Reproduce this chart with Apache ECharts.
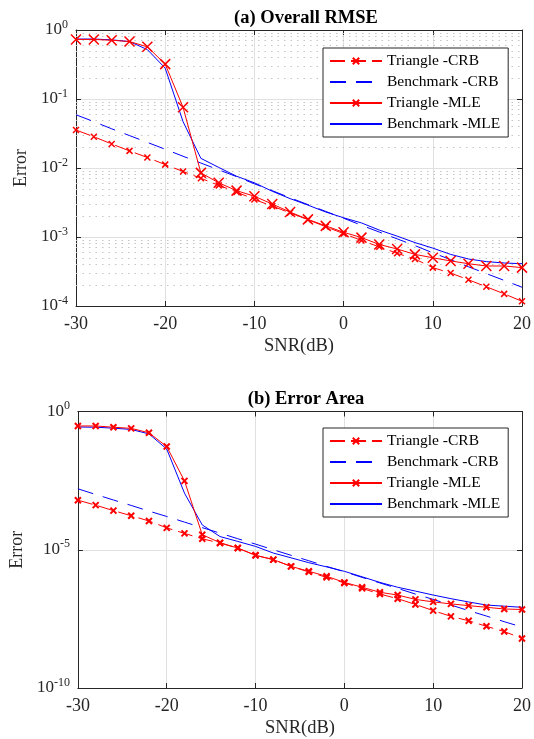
<!DOCTYPE html>
<html>
<head>
<meta charset="utf-8">
<script src="https://cdn.jsdelivr.net/npm/echarts@6/dist/echarts.min.js"></script>
<style>
  html, body { margin: 0; padding: 0; background: #fff; }
  #chart { width: 534px; height: 739px; }
</style>
</head>
<body>
<div id="chart"></div>
<script>
// SNR sweep shared by both panels (dB)
const snr = [-30, -28, -26, -24, -22, -20, -18, -16, -14, -12, -10, -8, -6, -4, -2,
             0, 2, 4, 6, 8, 10, 12, 14, 16, 18, 20];

// Panel (a): overall RMSE
const rmseTriangleCRB = [0.0355, 0.0284, 0.0223, 0.0177, 0.0142, 0.0112, 0.0089, 0.0071, 0.0056, 0.0045,
  0.0035, 0.0028, 0.00224, 0.00178, 0.00141, 0.00112, 0.00089, 0.00072, 0.00058, 0.00048,
  0.00036, 0.00030, 0.00024, 0.00019, 0.00015, 0.000117];
const rmseBenchmarkCRB = [0.059, 0.047, 0.037, 0.0295, 0.0235, 0.0187, 0.0148, 0.0118, 0.0094, 0.0075,
  0.0059, 0.0047, 0.0037, 0.00295, 0.00235, 0.00187, 0.00148, 0.00118, 0.00094, 0.00075,
  0.00059, 0.00047, 0.00037, 0.000295, 0.000235, 0.000187];
const rmseTriangleMLE = [0.73, 0.73, 0.71, 0.68, 0.57, 0.32, 0.076, 0.0085, 0.0061, 0.0047,
  0.0039, 0.0030, 0.0023, 0.0018, 0.00145, 0.00117, 0.00098, 0.00078, 0.00067, 0.00056,
  0.00050, 0.00045, 0.00041, 0.00038, 0.00038, 0.00036];
const rmseBenchmarkMLE = [0.74, 0.74, 0.72, 0.68, 0.52, 0.28, 0.047, 0.0138, 0.0102, 0.0076,
  0.0061, 0.0046, 0.0036, 0.0029, 0.0023, 0.0019, 0.0016, 0.00126, 0.00103, 0.00083,
  0.00069, 0.00056, 0.00048, 0.00044, 0.00042, 0.00041];

// Panel (b): error area
const areaTriangleCRB = [6.2e-4, 4.1e-4, 2.6e-4, 1.7e-4, 1.1e-4, 6.2e-5, 3.9e-5, 2.5e-5, 1.74e-5, 1.15e-5,
  6.3e-6, 4.4e-6, 2.5e-6, 1.58e-6, 1.0e-6, 6.3e-7, 4.0e-7, 2.5e-7, 1.7e-7, 1.05e-7,
  6.3e-8, 3.9e-8, 2.7e-8, 1.7e-8, 1.1e-8, 6.2e-9];
const areaBenchmarkCRB = [1.6e-3, 1.0e-3, 6.3e-4, 4.0e-4, 2.5e-4, 1.6e-4, 1.0e-4, 6.3e-5, 4.0e-5, 2.5e-5,
  1.6e-5, 1.0e-5, 6.3e-6, 4.0e-6, 2.5e-6, 1.6e-6, 1.0e-6, 6.3e-7, 4.0e-7, 2.5e-7,
  1.6e-7, 1.0e-7, 6.3e-8, 4.0e-8, 2.5e-8, 1.6e-8];
const areaTriangleMLE = [0.30, 0.30, 0.27, 0.245, 0.17, 0.054, 0.0031, 3.5e-5, 1.8e-5, 1.15e-5,
  6.3e-6, 4.4e-6, 2.5e-6, 1.66e-6, 1.1e-6, 6.6e-7, 4.4e-7, 2.9e-7, 2.3e-7, 1.6e-7,
  1.3e-7, 1.1e-7, 9.5e-8, 8.3e-8, 7.2e-8, 6.9e-8];
const areaBenchmarkMLE = [0.275, 0.27, 0.25, 0.224, 0.155, 0.044, 1.12e-3, 7.9e-5, 3.0e-5, 2.0e-5,
  1.32e-5, 7.6e-6, 5.1e-6, 3.4e-6, 2.4e-6, 1.66e-6, 1.05e-6, 6.6e-7, 4.4e-7, 3.2e-7,
  2.3e-7, 1.7e-7, 1.29e-7, 1.0e-7, 9.1e-8, 8.3e-8];

// Series names and panel titles
const seriesNames = ['Triangle -CRB', 'Benchmark -CRB', 'Triangle -MLE', 'Benchmark -MLE'];
const panelTitles = ['(a) Overall RMSE', '(b) Error Area'];
const xName = 'SNR(dB)';
const yName = 'Error';

// Minor log grid (2..9 x 10^k) for panel (a)
const minorGridRmse = [];
for (let k = -4; k < 0; k++) {
  for (let m = 2; m <= 9; m++) minorGridRmse.push(m * Math.pow(10, k));
}

const FONT = '"Liberation Serif", "Times New Roman", serif';
const AX = '#262626';
const RED = '#ff0000';
const BLUE = '#0000ff';
const CLEAR = 'rgba(0,0,0,0)';
const DASH_RED = [15, 6];
const DASH_BLUE = [16, 10];
const crossPath = s => 'path://M0,0L' + s + ',' + s + 'M' + s + ',0L0,' + s;

const pair = arr => snr.map((x, i) => [x, arr[i]]);

const powLabel = v => {
  const e = Math.round(Math.log10(v));
  return '{b|10}{s|' + e + '}';
};
const richPow = {
  b: { fontSize: 17, fontFamily: FONT, color: AX },
  s: { fontSize: 12, fontFamily: FONT, color: AX, padding: [0, 0, 11, 0] }
};

function xAxes(gridIndex) {
  return [{
    type: 'value', gridIndex, min: -30, max: 20, interval: 10,
    name: xName, nameLocation: 'middle', nameGap: 31,
    nameTextStyle: { fontFamily: FONT, fontSize: 18.5, color: AX },
    axisLine: { show: true, onZero: false, lineStyle: { color: AX, width: 1 } },
    axisTick: { show: true, inside: true, length: 5, lineStyle: { color: AX } },
    axisLabel: { fontFamily: FONT, fontSize: 18, color: AX, margin: 9 },
    splitLine: { show: true, lineStyle: { color: '#e0e0e0', width: 1 } }
  }, {
    type: 'value', gridIndex, position: 'top', min: -30, max: 20, interval: 10,
    axisLine: { show: true, onZero: false, lineStyle: { color: AX, width: 1 } },
    axisTick: { show: true, inside: true, length: 5, lineStyle: { color: AX } },
    axisLabel: { show: false }, splitLine: { show: false }
  }];
}

function yAxes(gridIndex, min, base) {
  return [{
    type: 'log', gridIndex, min, max: 1, logBase: base,
    name: yName, nameLocation: 'middle', nameGap: 46, nameRotate: 90,
    nameTextStyle: { fontFamily: FONT, fontSize: 18, color: AX },
    axisLine: { show: true, onZero: false, lineStyle: { color: AX, width: 1 } },
    axisTick: { show: true, inside: true, length: 5, lineStyle: { color: AX } },
    axisLabel: { formatter: powLabel, rich: richPow, margin: 8 },
    splitLine: { show: true, lineStyle: { color: '#e0e0e0', width: 1 } },
    minorSplitLine: { show: false }
  }, {
    type: 'log', gridIndex, position: 'right', min, max: 1, logBase: base,
    axisLine: { show: true, onZero: false, lineStyle: { color: AX, width: 1 } },
    axisTick: { show: true, inside: true, length: 5, lineStyle: { color: AX } },
    axisLabel: { show: false }, splitLine: { show: false }
  }];
}

function makeLegend(top) {
  return {
    orient: 'vertical', left: 323, top,
    data: seriesNames,
    backgroundColor: '#fff', borderColor: AX, borderWidth: 1,
    padding: [5, 8, 5, 6], itemGap: 5, itemWidth: 52, itemHeight: 8,
    textStyle: { fontFamily: FONT, fontSize: 15.5, color: '#000', lineHeight: 15 },
    selectedMode: false
  };
}

function line(name, data, xi, yi, color, dash, symSize, symStroke, z) {
  return {
    name, type: 'line', data: pair(data), xAxisIndex: xi, yAxisIndex: yi,
    lineStyle: { color, width: 1, type: dash || 'solid' },
    itemStyle: symSize
      ? { color, borderColor: color, borderWidth: symStroke || 1.5 }
      : { color: CLEAR, borderColor: CLEAR, borderWidth: 0 },
    symbol: symSize ? crossPath(symSize) : 'none',
    symbolSize: symSize || 0,
    showSymbol: !!symSize,
    z: z || 2,
    animation: false, silent: true
  };
}

const panelA = [
  line(seriesNames[0], rmseTriangleCRB, 0, 0, RED, DASH_RED, 6, 1.5, 3),
  line(seriesNames[1], rmseBenchmarkCRB, 0, 0, BLUE, DASH_BLUE, 0, 0, 3),
  line(seriesNames[2], rmseTriangleMLE, 0, 0, RED, 'solid', 10, 1.5, 4),
  line(seriesNames[3], rmseBenchmarkMLE, 0, 0, BLUE, 'solid', 0, 0, 3)
];
// dotted minor log grid drawn under the curves
panelA[1].markLine = {
  silent: true, symbol: ['none', 'none'], z: 1, animation: false,
  precision: 12,
  label: { show: false },
  lineStyle: { color: '#c4c4c4', type: [1.5, 5], width: 1 },
  emphasis: { disabled: true },
  data: minorGridRmse.map(v => ({ yAxis: v }))
};

const panelB = [
  line(seriesNames[0], areaTriangleCRB, 2, 2, RED, DASH_RED, 6, 2, 3),
  line(seriesNames[1], areaBenchmarkCRB, 2, 2, BLUE, DASH_BLUE, 0, 0, 3),
  line(seriesNames[2], areaTriangleMLE, 2, 2, RED, 'solid', 6, 2, 4),
  line(seriesNames[3], areaBenchmarkMLE, 2, 2, BLUE, 'solid', 0, 0, 3)
];

const chart = echarts.init(document.getElementById('chart'), null, { renderer: 'canvas' });
chart.setOption({
  animation: false,
  backgroundColor: '#fff',
  title: [
    { text: panelTitles[0], left: 301, top: 4, textAlign: 'center',
      textStyle: { fontFamily: FONT, fontSize: 18.5, fontWeight: 'bold', color: '#000' } },
    { text: panelTitles[1], left: 301, top: 385, textAlign: 'center',
      textStyle: { fontFamily: FONT, fontSize: 18.5, fontWeight: 'bold', color: '#000' } }
  ],
  legend: [makeLegend(48), makeLegend(428)],
  grid: [
    { left: 76, top: 30, width: 450, height: 276, containLabel: false },
    { left: 76, top: 411.5, width: 450, height: 277, containLabel: false }
  ],
  xAxis: [...xAxes(0), ...xAxes(1)],
  yAxis: [...yAxes(0, 1e-4, 10), ...yAxes(1, 1e-10, 1e5)],
  series: [...panelA, ...panelB]
});
</script>
</body>
</html>
